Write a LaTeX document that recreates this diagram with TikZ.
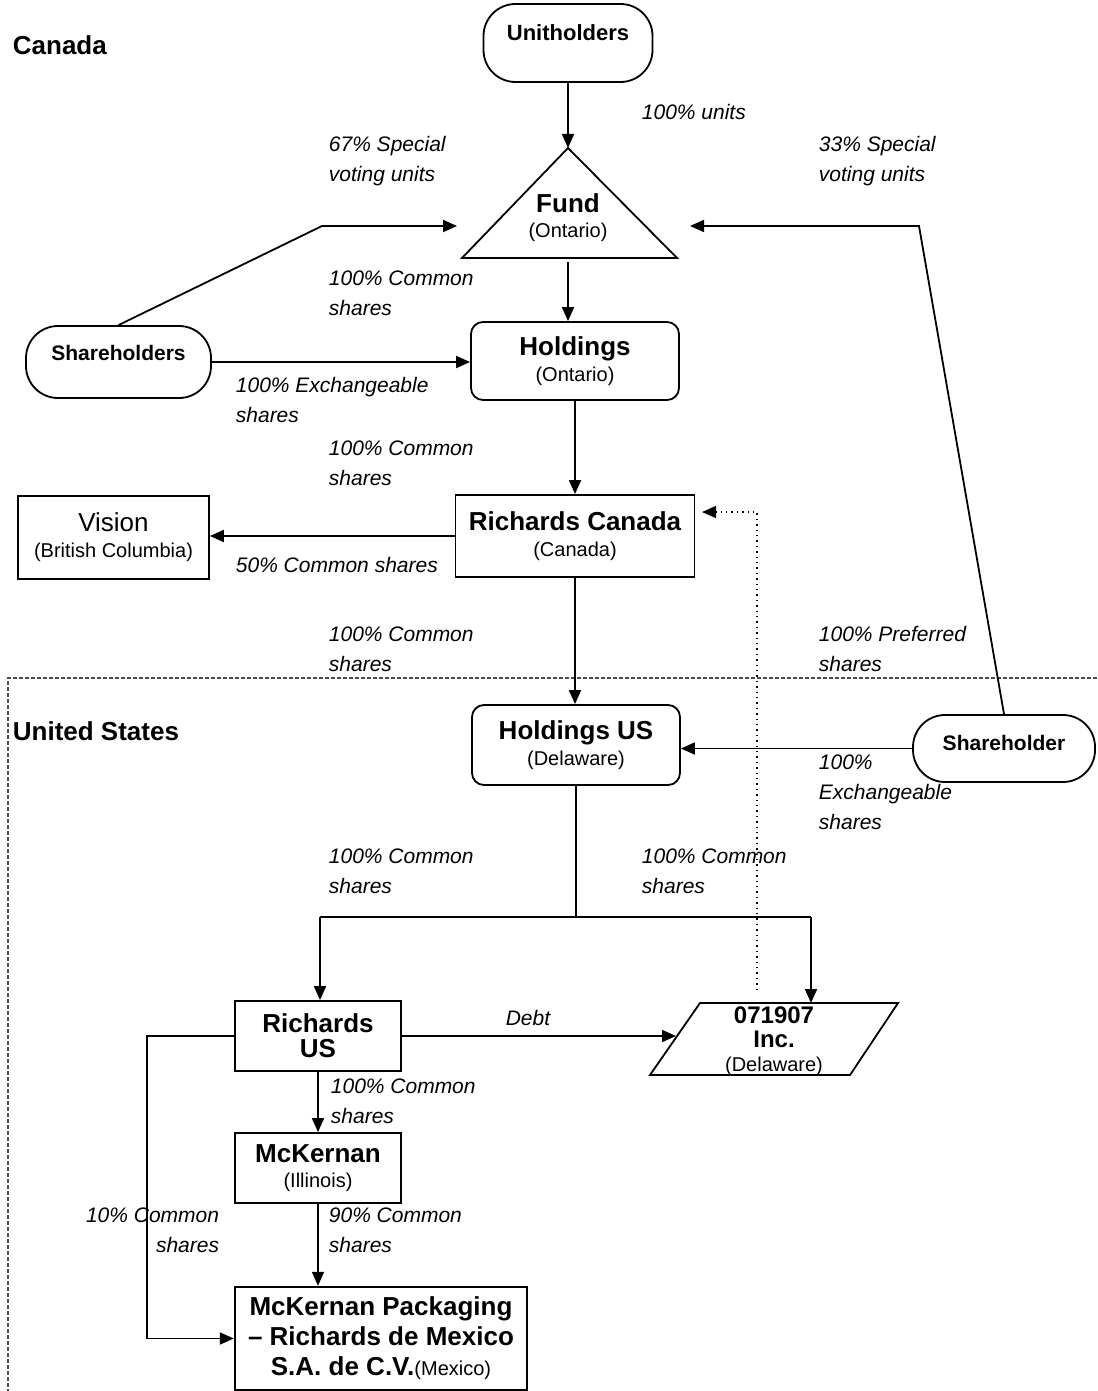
\documentclass[tikz,border=0pt]{standalone}
\usepackage{fontspec}
\setmainfont{Liberation Sans}
\usetikzlibrary{arrows.meta,calc}
\newcommand\ttl[2]{{\bfseries\fontsize{13}{13}\selectfont #1}\\#2}
\newcommand\up[2]{\raisebox{#1}[\height][\depth]{#2}}
\begin{document}
\begin{tikzpicture}[x=0.5pt,y=-0.5pt,
  line width=0.9pt,
  arr/.style={-{Triangle[length=7pt,width=6pt]}},
  lbl/.style={anchor=west,align=left,inner sep=0pt,font=\fontsize{10.5}{15}\selectfont\itshape},
  region/.style={anchor=west,inner sep=0pt,font=\fontsize{13}{15}\selectfont\bfseries},
  box/.style={draw,align=center,inner sep=0pt,font=\fontsize{10}{13}\selectfont},
  rbox/.style={box,rounded corners=6pt},
  pill/.style={box,rounded corners=16pt},
]
\useasboundingbox (0,0) rectangle (1097,1391);

% region border
\draw[gray!60!black,line width=0.6pt,dash pattern=on 2pt off 1pt] (1097,678) -- (8,678) -- (8,1391);

% region titles
\node[region] (ca) at (12,45) {Canada};
\node[region] (us) at (12,731) {United States};

% nodes
\node[pill,minimum width=84.5pt,minimum height=39pt,font=\fontsize{11}{13}\selectfont\bfseries] (unit) at (568,43) {\up{5pt}{Unitholders}};
\draw (568,148) -- (677,258) -- (462,258) -- cycle;
\node[inner sep=0pt,align=center,font=\fontsize{10}{12.5}\selectfont] (fund) at (568,217.5) {{\bfseries\fontsize{13}{13}\selectfont Fund}\\(Ontario)};
\coordinate (fundtop) at (568,148);
\coordinate (fundbase) at (568,262);

\node[pill,minimum width=92.5pt,minimum height=36pt,font=\fontsize{10.5}{13}\selectfont\bfseries] (sh) at (118.5,362) {\up{4.5pt}{Shareholders}};
\node[pill,minimum width=91pt,minimum height=33.5pt,font=\fontsize{10.5}{13}\selectfont\bfseries] (sh2) at (1004,748.5) {\up{3pt}{Shareholder}};

\node[rbox,minimum width=104pt,minimum height=39pt] (hold) at (575,361) {\ttl{Holdings}{(Ontario)}};
\node[box,minimum width=119.5pt,minimum height=41pt] (rc) at (575,536) {\ttl{Richards Canada}{(Canada)}};
\node[box,minimum width=95.5pt,minimum height=41.5pt] (vis) at (113.5,537.5) {{\fontsize{13}{13}\selectfont Vision}\\(British Columbia)};
\node[rbox,minimum width=104pt,minimum height=40pt] (hus) at (576,745) {\ttl{Holdings US}{(Delaware)}};
\node[box,minimum width=83pt,minimum height=35pt,font=\fontsize{13}{12.5}\selectfont\bfseries] (rus) at (318,1036) {Richards\\US};
\draw (700,1003) -- (898,1003) -- (850,1075) -- (650,1075) -- cycle;
\node[inner sep=0pt,align=center,font=\fontsize{10}{12}\selectfont] (inc) at (774,1041) {{\bfseries\fontsize{12}{12}\selectfont 071907}\\{\bfseries\fontsize{12}{12}\selectfont Inc.}\\(Delaware)};
\coordinate (inctop) at (811,1003);
\coordinate (incleft) at (676,1036);
\node[box,minimum width=83pt,minimum height=35pt,font=\fontsize{10}{12.5}\selectfont] (mck) at (318,1168) {{\bfseries\fontsize{13}{13}\selectfont McKernan}\\(Illinois)};
\node[box,line width=1.2pt,minimum width=146pt,minimum height=51.5pt,font=\fontsize{13}{15}\selectfont\bfseries] (mex) at (381,1338.5) {McKernan Packaging\\– Richards de Mexico\\S.A. de C.V.{\mdseries\fontsize{10}{15}\selectfont(Mexico)}};

% connectors
\draw[arr] (unit.south) -- (fundtop);
\draw[arr] (fundbase) -- (fundbase |- hold.north);
\draw[arr] (sh.east) -- (sh.east -| hold.west);
\coordinate (lc) at (322,226);
\coordinate (lt) at (457,226);
\draw[arr] (sh.north) -- (lc) -- (lt);
\coordinate (rcn) at (919,226);
\coordinate (rt) at (690,226);
\draw[arr] (sh2.north) -- (rcn) -- (rt);
\draw[arr] (hold.south) -- (hold.south |- rc.north);
\draw[arr] (rc.west) -- (rc.west -| vis.east);
\draw[arr] (rc.south) -- (rc.south |- hus.north);
\draw[arr] (sh2.west) -- (sh2.west -| hus.east);
\coordinate (j) at (577,917);
\coordinate (jl) at (320,917);
\coordinate (jr) at (811,917);
\draw (hus.south) -- (hus.south |- j);
\draw (jl) -- (jr);
\draw[arr] (jl) -- (jl |- rus.north);
\draw[arr] (jr) -- (inctop);
\draw[arr] (rus.east) -- (incleft);
\coordinate (incdot) at (757,990);
\coordinate (dotc) at (757,512);
\coordinate (dottip) at (702,512);
\draw[arr,dotted,line width=0.7pt] (incdot) -- (dotc) -- (dottip);
\draw[arr] (rus.south) -- (mck.north);
\draw[arr] (mck.south) -- (mck.south |- mex.north);
\coordinate (ll1) at (147,1036);
\coordinate (ll2) at (147,1338.5);
\draw[arr] (rus.west) -- (ll1) -- (ll2) -- (mex.west);

% labels
\node[lbl] (l1) at (641,112) {100\% units};
\node[lbl] (l2) at (328,161) {67\% Special\\voting units};
\node[lbl] (l3) at (818,161) {33\% Special\\voting units};
\node[lbl] (l4) at (328,293) {100\% Common\\shares};
\node[lbl] (l5) at (235,400) {100\% Exchangeable\\shares};
\node[lbl] (l6) at (328,463) {100\% Common\\shares};
\node[lbl] (l7) at (235,565) {50\% Common shares};
\node[lbl] (l8) at (328,649) {100\% Common\\shares};
\node[lbl] (l9) at (818,649) {100\% Preferred\\shares};
\node[lbl] (l10) at (818,792) {100\%\\Exchangeable\\shares};
\node[lbl] (l11) at (328,871) {100\% Common\\shares};
\node[lbl] (l12) at (641,871) {100\% Common\\shares};
\node[lbl,anchor=center] (l13) at (528,1018) {Debt};
\node[lbl] (l14) at (330,1101) {100\% Common\\shares};
\node[lbl] (l15) at (328,1230) {90\% Common\\shares};
\node[lbl,anchor=east,align=right] (l16) at (220,1230) {10\% Common\\shares};
\end{tikzpicture}
\end{document}
